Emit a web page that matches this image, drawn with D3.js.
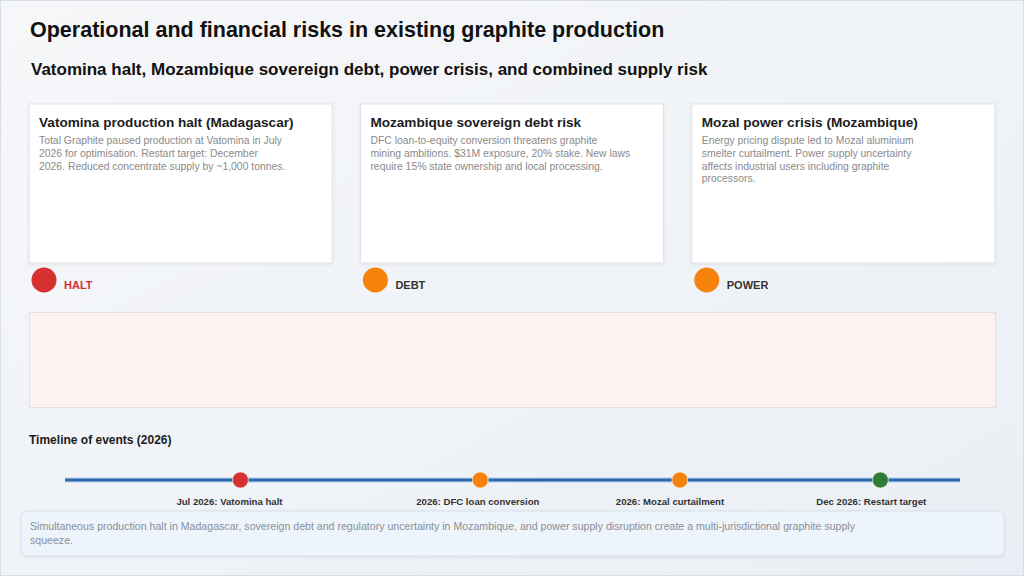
<!DOCTYPE html>
<html>
<head>
<meta charset="utf-8">
<script src="https://cdn.jsdelivr.net/npm/d3@7"></script>
<style>
  html, body { margin: 0; padding: 0; background: #f1f4f8; }
  svg { display: block; font-family: "Liberation Sans", Arial, sans-serif; }
</style>
</head>
<body>
<div id="chart-container"></div>
<script>
var title = "Operational and financial risks in existing graphite production";
var subtitle = "Vatomina halt, Mozambique sovereign debt, power crisis, and combined supply risk";

var card_titles = ["Vatomina production halt (Madagascar)", "Mozambique sovereign debt risk", "Mozal power crisis (Mozambique)"];
var card_lines = [
	["Total Graphite paused production at Vatomina in July", "2026 for optimisation. Restart target: December", "2026. Reduced concentrate supply by ~1,000 tonnes."],
	["DFC loan-to-equity conversion threatens graphite", "mining ambitions. $31M exposure, 20% stake. New laws", "require 15% state ownership and local processing."],
	["Energy pricing dispute led to Mozal aluminium", "smelter curtailment. Power supply uncertainty", "affects industrial users including graphite", "processors."]
];
var risk_labels = ["HALT", "DEBT", "POWER"];
var risk_colors = ["#d63031", "#f5820d", "#f5820d"];
var risk_label_colors = ["#d63031", "#333333", "#333333"];

var timeline_title = "Timeline of events (2026)";
var event_labels = ["Jul 2026: Vatomina halt", "2026: DFC loan conversion", "2026: Mozal curtailment", "Dec 2026: Restart target"];
var event_pos = [0.196, 0.464, 0.687, 0.911];
var event_colors = ["#d63031", "#f5820d", "#f5820d", "#2e7d32"];

var summary_lines = ["Simultaneous production halt in Madagascar, sovereign debt and regulatory uncertainty in Mozambique, and power supply disruption create a multi-jurisdictional graphite supply", "squeeze."];

var svg_width = 1024;
var svg_height = 576;

var svg = d3.select("#chart-container")
	.append("svg")
	.attr("width", svg_width)
	.attr("height", svg_height);

var defs = svg.append("defs");
var grad = defs.append("linearGradient")
	.attr("id", "bg")
	.attr("x1", 0).attr("y1", 0).attr("x2", 1).attr("y2", 1);
grad.append("stop").attr("offset", "0%").attr("stop-color", "#f6f7f9");
grad.append("stop").attr("offset", "100%").attr("stop-color", "#eaeff5");

var shadow = defs.append("filter")
	.attr("id", "shadow")
	.attr("x", "-5%").attr("y", "-10%")
	.attr("width", "110%").attr("height", "130%");
shadow.append("feDropShadow")
	.attr("dx", 0).attr("dy", 1)
	.attr("stdDeviation", 1.5)
	.attr("flood-color", "#000")
	.attr("flood-opacity", 0.08);

svg.append("rect")
	.attr("x", 0.5).attr("y", 0.5)
	.attr("width", svg_width - 1).attr("height", svg_height - 1)
	.attr("fill", "url(#bg)")
	.attr("stroke", "#d9dee4");

svg.append("text")
	.attr("x", 30).attr("y", 37)
	.attr("font-size", 21.5).attr("font-weight", "bold")
	.attr("fill", "#111")
	.text(title);

svg.append("text")
	.attr("x", 31).attr("y", 75)
	.attr("font-size", 17).attr("font-weight", "bold")
	.attr("fill", "#111")
	.text(subtitle);

// three risk cards
var card_x = d3.scaleBand()
	.domain(d3.range(card_titles.length))
	.range([29, 995])
	.paddingInner(0.085);

var cards = svg.selectAll(".card")
	.data(card_titles)
	.enter().append("g")
	.attr("class", "card")
	.attr("transform", function(d, i) { return "translate(" + card_x(i) + ",104)"; });

cards.append("rect")
	.attr("width", card_x.bandwidth())
	.attr("height", 159)
	.attr("fill", "#fff")
	.attr("stroke", "#dde1e6")
	.attr("filter", "url(#shadow)");

cards.append("text")
	.attr("x", 10).attr("y", 23)
	.attr("font-size", 13.6).attr("font-weight", "bold")
	.attr("fill", "#1c1c1c")
	.text(function(d) { return d; });

cards.append("text")
	.attr("font-size", 10.4)
	.attr("fill", "#8a8a8a")
	.selectAll("tspan")
	.data(function(d, i) { return card_lines[i]; })
	.enter().append("tspan")
	.attr("x", 10)
	.attr("y", function(d, i) { return 40 + i * 12.8; })
	.text(function(d) { return d; });

// risk markers
var markers = svg.selectAll(".marker")
	.data(risk_labels)
	.enter().append("g")
	.attr("class", "marker")
	.attr("transform", function(d, i) { return "translate(" + card_x(i) + ",0)"; });

markers.append("circle")
	.attr("cx", 15).attr("cy", 280).attr("r", 12.5)
	.attr("fill", function(d, i) { return risk_colors[i]; });

markers.append("text")
	.attr("x", 35).attr("y", 289)
	.attr("font-size", 11).attr("font-weight", "bold")
	.attr("fill", function(d, i) { return risk_label_colors[i]; })
	.text(function(d) { return d; });

// combined risk panel
svg.append("rect")
	.attr("x", 29.5).attr("y", 312.5)
	.attr("width", 966).attr("height", 95)
	.attr("fill", "#fdf1f1")
	.attr("stroke", "#e9dede");

// timeline
svg.append("text")
	.attr("x", 29).attr("y", 444)
	.attr("font-size", 12).attr("font-weight", "bold")
	.attr("fill", "#1c1c1c")
	.text(timeline_title);

var tx = d3.scaleLinear().domain([0, 1]).range([65, 960]);
var line_y = 480;

svg.append("line")
	.attr("x1", tx(0)).attr("x2", tx(1))
	.attr("y1", line_y).attr("y2", line_y)
	.attr("stroke", "#b9d2ee").attr("stroke-width", 5);
svg.append("line")
	.attr("x1", tx(0)).attr("x2", tx(1))
	.attr("y1", line_y).attr("y2", line_y)
	.attr("stroke", "#2c69ad").attr("stroke-width", 3);

var events = svg.selectAll(".event")
	.data(event_labels)
	.enter().append("g")
	.attr("class", "event")
	.attr("transform", function(d, i) { return "translate(" + tx(event_pos[i]) + "," + line_y + ")"; });

events.append("circle")
	.attr("r", 8)
	.attr("fill", function(d, i) { return event_colors[i]; })
	.attr("stroke", "#fff").attr("stroke-opacity", 0.6).attr("stroke-width", 1);

events.append("text")
	.attr("x", -64)
	.attr("y", 25)
	.attr("font-size", 9.6).attr("font-weight", "bold")
	.attr("fill", "#333")
	.text(function(d) { return d; });

// summary box
svg.append("rect")
	.attr("x", 21).attr("y", 511)
	.attr("width", 983).attr("height", 45)
	.attr("rx", 6)
	.attr("fill", "#eef4fc")
	.attr("stroke", "#d5dfeb")
	.attr("filter", "url(#shadow)");

svg.append("text")
	.attr("font-size", 10.6)
	.attr("fill", "#8a8f96")
	.selectAll("tspan")
	.data(summary_lines)
	.enter().append("tspan")
	.attr("x", 30)
	.attr("y", function(d, i) { return 530 + i * 13.5; })
	.text(function(d) { return d; });
</script>
</body>
</html>
